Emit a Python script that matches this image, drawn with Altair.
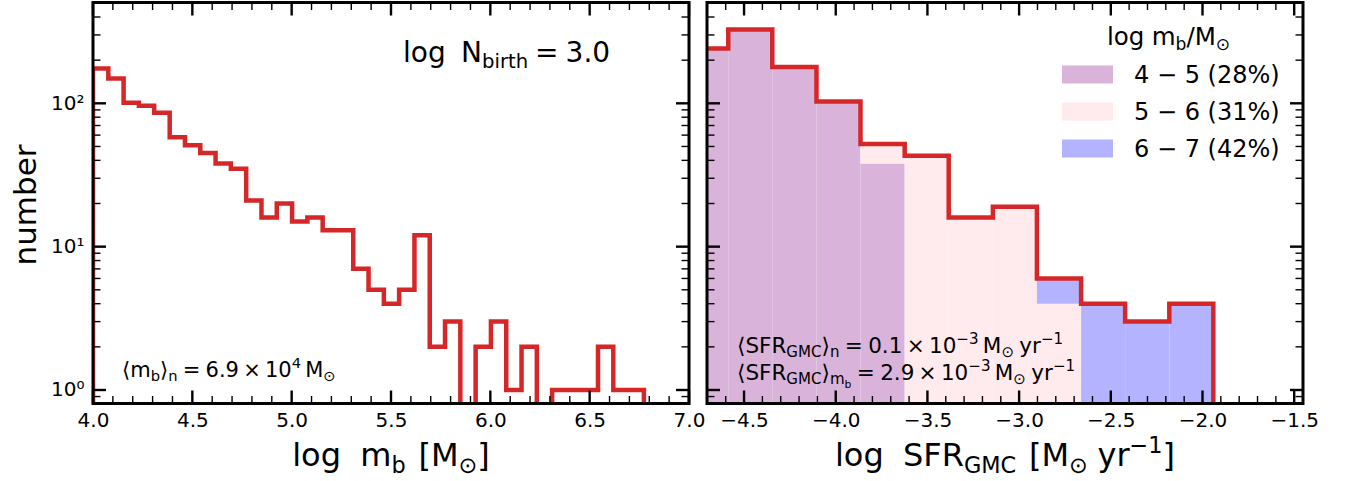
import altair as alt
import pandas as pd
import numpy as np

FONT = "DejaVu Sans"
RED = "#d62728"

# ---------------- data ----------------
mb_edges = [4.000, 4.077, 4.154, 4.231, 4.308, 4.386, 4.463, 4.540, 4.617, 4.694,
            4.771, 4.848, 4.925, 5.002, 5.079, 5.156, 5.233, 5.310, 5.387, 5.464,
            5.541, 5.618, 5.695, 5.772, 5.849, 5.926, 6.003, 6.080, 6.157, 6.234,
            6.311, 6.388, 6.465, 6.542, 6.619, 6.696, 6.773]
mb_counts = [175, 149, 101, 96, 86, 58, 51, 45, 38, 35, 21, 16, 20, 15, 16, 13, 13, 7,
             5, 4, 5, 12, 2, 3, 0, 2, 3, 1, 2, 0, 1, 1, 1, 2, 1, 1]

sfr_edges = [-4.827, -4.586, -4.346, -4.105, -3.865, -3.624, -3.384, -3.143,
             -2.903, -2.662, -2.422, -2.181, -1.941]
grp_labels = ["4 − 5 (28%)", "5 − 6 (31%)", "6 − 7 (42%)"]
grp_colors = ["#d9b3d9", "#ffebee", "#b3b3ff"]
sfr_n_45 = [241, 327, 179, 103, 38, 0, 0, 0, 0, 0, 0, 0]
sfr_n_56 = [0, 0, 0, 0, 14, 43, 16, 19, 4, 0, 0, 0]
sfr_n_67 = [0, 0, 0, 0, 0, 0, 0, 0, 2, 4, 3, 4]
sfr_groups = [sfr_n_45, sfr_n_56, sfr_n_67]

mb_ticks = [4.0, 4.5, 5.0, 5.5, 6.0, 6.5, 7.0]
sfr_ticks = [-4.5, -4.0, -3.5, -3.0, -2.5, -2.0, -1.5]
y_ticks = [1, 10, 100]

# ---------------- layout ----------------
W, H = 596, 401
Y_DOMAIN = [0.805, 505]
MB_DOMAIN = [4.0, 7.0]
SFR_DOMAIN = [-4.702, -1.452]
FLOOR = 0.3

EM = {" ": 0.318, "(": 0.390, ")": 0.390, "%": 0.950, ".": 0.318, "/": 0.337,
      "0": 0.636, "1": 0.636, "2": 0.636, "3": 0.636, "4": 0.636, "5": 0.636,
      "6": 0.636, "7": 0.636, "8": 0.636, "9": 0.636, "=": 0.838, "C": 0.698,
      "F": 0.575, "G": 0.775, "M": 0.863, "N": 0.748, "R": 0.695, "S": 0.635,
      "[": 0.390, "]": 0.390, "b": 0.635, "g": 0.635, "h": 0.634, "i": 0.278,
      "l": 0.278, "m": 0.974, "n": 0.634, "o": 0.612, "r": 0.411, "t": 0.392,
      "y": 0.592, "×": 0.838, "−": 0.838, "⊙": 0.838, "⟨": 0.390, "⟩": 0.390}


def text_width(s, size):
    return sum(EM.get(c, 0.6) for c in s) * size


def mathtext(segs, x0, y0, size, align="left"):
    out = []
    x = 0.0
    for t, kind in segs:
        if kind == "gap":
            x += float(t) * size
            continue
        if kind == "sub":
            s, dy = size * 0.7, 0.22 * size
        elif kind == "subsub":
            s, dy = size * 0.5, 0.38 * size
        elif kind == "sup":
            s, dy = size * 0.7, -0.40 * size
        else:
            s, dy = size, 0.0
        out.append((t, x, dy, s))
        x += text_width(t, s)
    shift = -x / 2 if align == "center" else 0.0
    return [(t, x0 + shift + px, y0 + dy, s) for t, px, dy, s in out]


ONE = pd.DataFrame({"k": [0]})


def text_layer(t, x, y, size, align="left", angle=0):
    return alt.Chart(ONE).mark_text(
        text=t, font=FONT, fontSize=size, align=align, baseline="alphabetic",
        color="black", angle=angle
    ).encode(x=alt.value(x), y=alt.value(y))


def math_layers(segs, x0, y0, size, align="left"):
    return [text_layer(t, x, y, s) for t, x, y, s in mathtext(segs, x0, y0, size, align)]


def step_df(edges, counts):
    xs, ys = [edges[0]], [FLOOR]
    for i, c in enumerate(counts):
        v = c if c > 0 else FLOOR
        xs += [edges[i], edges[i + 1]]
        ys += [v, v]
    xs.append(edges[-1])
    ys.append(FLOOR)
    return pd.DataFrame({"x": xs, "y": ys, "o": list(range(len(xs)))})


def minor_ticks(lo, hi, majors):
    vals = []
    k = int(np.floor(lo * 10)) - 1
    while k / 10 <= hi + 1e-9:
        v = round(k / 10, 2)
        if lo < v < hi and all(abs(v - m) > 1e-6 for m in majors):
            vals.append(v)
        k += 1
    return vals


y_minor = [v * d for d in (0.1, 1, 10, 100) for v in range(2, 10)]
y_minor = [v for v in y_minor if Y_DOMAIN[0] < v < Y_DOMAIN[1]]


def tick_layers(xscale, xaxis, xmajor, xminor, yscale, yaxis):
    layers = []
    for vals, L, sw in ((xmajor, 13, 2.4), (xminor, 7.5, 1.4)):
        df = pd.DataFrame({"v": vals})
        for y0, y1 in ((H, H - L), (0, L)):
            layers.append(alt.Chart(df).mark_rule(color="black", strokeWidth=sw).encode(
                x=alt.X("v:Q", scale=xscale, axis=xaxis), y=alt.value(y0), y2=alt.value(y1)))
    for vals, L, sw in ((y_ticks, 13, 2.4), (y_minor, 7.5, 1.4)):
        df = pd.DataFrame({"v": vals})
        for x0, x1 in ((0, L), (W, W - L)):
            layers.append(alt.Chart(df).mark_rule(color="black", strokeWidth=sw).encode(
                y=alt.Y("v:Q", scale=yscale, axis=yaxis), x=alt.value(x0), x2=alt.value(x1)))
    return layers


def frame_layer():
    return alt.Chart(ONE).mark_rect(fillOpacity=0, stroke="black", strokeWidth=3).encode(
        x=alt.value(0), x2=alt.value(W), y=alt.value(0), y2=alt.value(H))


yscale = alt.Scale(type="log", domain=Y_DOMAIN, nice=False)

axis_common = dict(title=None, ticks=False, domain=False, grid=False, labelFont=FONT,
                   labelFontSize=20, labelColor="black", labelFlush=False,
                   labelOverlap=False, labelBound=False)

yaxis_l = alt.Axis(values=y_ticks, labelPadding=9,
                   labelExpr="datum.value == 1 ? '10⁰' : (datum.value == 10 ? '10¹' : '10²')",
                   **axis_common)

# ---------------- left panel ----------------
xs_l = alt.Scale(domain=MB_DOMAIN, nice=False, zero=False)
xa_l = alt.Axis(values=mb_ticks, format=".1f", labelPadding=7, **axis_common)

left_line = alt.Chart(step_df(mb_edges, mb_counts)).mark_line(
    color=RED, strokeWidth=4.5, clip=True, strokeJoin="miter", strokeCap="butt"
).encode(x=alt.X("x:Q", scale=xs_l, axis=xa_l),
         y=alt.Y("y:Q", scale=yscale, axis=yaxis_l),
         order="o:Q")

left_layers = [left_line]
left_layers += tick_layers(xs_l, xa_l, mb_ticks, minor_ticks(4.0, 7.0, mb_ticks), yscale, yaxis_l)
left_layers.append(frame_layer())
left_layers += math_layers([("log", "n"), ("0.55", "gap"), ("N", "n"), ("birth", "sub"),
                            ("0.25", "gap"), ("=", "n"), ("0.25", "gap"), ("3.0", "n")],
                           310, 59, 28)
left_layers += math_layers([("⟨", "n"), ("m", "n"), ("b", "sub"), ("⟩", "n"), ("n", "sub"),
                            ("0.25", "gap"), ("=", "n"), ("0.25", "gap"), ("6.9", "n"),
                            ("0.2", "gap"), ("×", "n"), ("0.2", "gap"), ("10", "n"),
                            ("4", "sup"), ("0.2", "gap"), ("M", "n"), ("⊙", "sub")],
                           29, 374, 21)
left_layers += math_layers([("log", "n"), ("0.6", "gap"), ("m", "n"), ("b", "sub"),
                            ("0.4", "gap"), ("[", "n"), ("M", "n"), ("⊙", "sub"), ("]", "n")],
                           W / 2, 463, 32, align="center")
left_layers.append(text_layer("number", -57, H / 2 + 2, 31, align="center", angle=270))

left = alt.layer(*left_layers).properties(width=W, height=H)

# ---------------- right panel ----------------
xs_r = alt.Scale(domain=SFR_DOMAIN, nice=False, zero=False)
xa_r = alt.Axis(values=sfr_ticks, format=".1f", labelPadding=7, **axis_common)

rows = []
for i in range(len(sfr_edges) - 1):
    cum = 0
    for g, counts in enumerate(sfr_groups):
        c = counts[i]
        if c > 0:
            lo = cum if cum > 0 else FLOOR
            rows.append({"x0": sfr_edges[i], "x1": sfr_edges[i + 1], "lo": lo,
                         "hi": cum + c, "grp": grp_labels[g]})
        cum += c
fill_df = pd.DataFrame(rows)
total = [sum(g[i] for g in sfr_groups) for i in range(len(sfr_edges) - 1)]

fills = alt.Chart(fill_df).mark_rect(clip=True).encode(
    x=alt.X("x0:Q", scale=xs_r, axis=xa_r), x2="x1:Q",
    y=alt.Y("lo:Q", scale=yscale, axis=None), y2="hi:Q",
    color=alt.Color("grp:N", scale=alt.Scale(domain=grp_labels, range=grp_colors), legend=None))

right_line = alt.Chart(step_df(sfr_edges, total)).mark_line(
    color=RED, strokeWidth=4.5, clip=True, strokeJoin="miter", strokeCap="butt"
).encode(x=alt.X("x:Q", scale=xs_r, axis=xa_r),
         y=alt.Y("y:Q", scale=yscale, axis=None),
         order="o:Q")

right_layers = [fills, right_line]
right_layers += tick_layers(xs_r, xa_r, sfr_ticks, minor_ticks(SFR_DOMAIN[0], SFR_DOMAIN[1], sfr_ticks), yscale, None)
right_layers.append(frame_layer())

# legend
right_layers += math_layers([("log", "n"), ("0.3", "gap"), ("m", "n"), ("b", "sub"), ("/", "n"),
                             ("M", "n"), ("⊙", "sub")], 400, 42.5, 24.5)
for k, (lab, col) in enumerate(zip(grp_labels, grp_colors)):
    yc = 72 + 37 * k
    right_layers.append(alt.Chart(ONE).mark_rect(color=col).encode(
        x=alt.value(355), x2=alt.value(406), y=alt.value(yc - 9), y2=alt.value(yc + 9)))
    right_layers.append(text_layer(lab, 427, yc + 8, 24))

right_layers += math_layers([("⟨", "n"), ("SFR", "n"), ("GMC", "sub"), ("⟩", "n"), ("n", "sub"),
                             ("0.25", "gap"), ("=", "n"), ("0.25", "gap"), ("0.1", "n"),
                             ("0.2", "gap"), ("×", "n"), ("0.2", "gap"), ("10", "n"),
                             ("−3", "sup"), ("0.2", "gap"), ("M", "n"), ("⊙", "sub"),
                             ("0.25", "gap"), ("yr", "n"), ("−1", "sup")], 30, 350, 21.5)
right_layers += math_layers([("⟨", "n"), ("SFR", "n"), ("GMC", "sub"), ("⟩", "n"), ("m", "sub"),
                             ("b", "subsub"),
                             ("0.25", "gap"), ("=", "n"), ("0.25", "gap"), ("2.9", "n"),
                             ("0.2", "gap"), ("×", "n"), ("0.2", "gap"), ("10", "n"),
                             ("−3", "sup"), ("0.2", "gap"), ("M", "n"), ("⊙", "sub"),
                             ("0.25", "gap"), ("yr", "n"), ("−1", "sup")], 30, 377, 21.5)
right_layers += math_layers([("log", "n"), ("0.6", "gap"), ("SFR", "n"), ("GMC", "sub"),
                             ("0.4", "gap"), ("[", "n"), ("M", "n"), ("⊙", "sub"),
                             ("0.3", "gap"), ("yr", "n"), ("−1", "sup"), ("]", "n")],
                            W / 2, 463, 32, align="center")

right = alt.layer(*right_layers).properties(width=W, height=H)

chart = alt.hconcat(left, right, spacing=18, bounds="flush").resolve_scale(
    x="independent", y="independent"
).properties(
    padding={"left": 11, "top": 0.5, "right": 5, "bottom": 2},
    autosize=alt.AutoSizeParams(type="pad"),
    background="white",
).configure_view(stroke=None)

chart.save("out.html", embed_options={"renderer": "svg", "actions": False})
